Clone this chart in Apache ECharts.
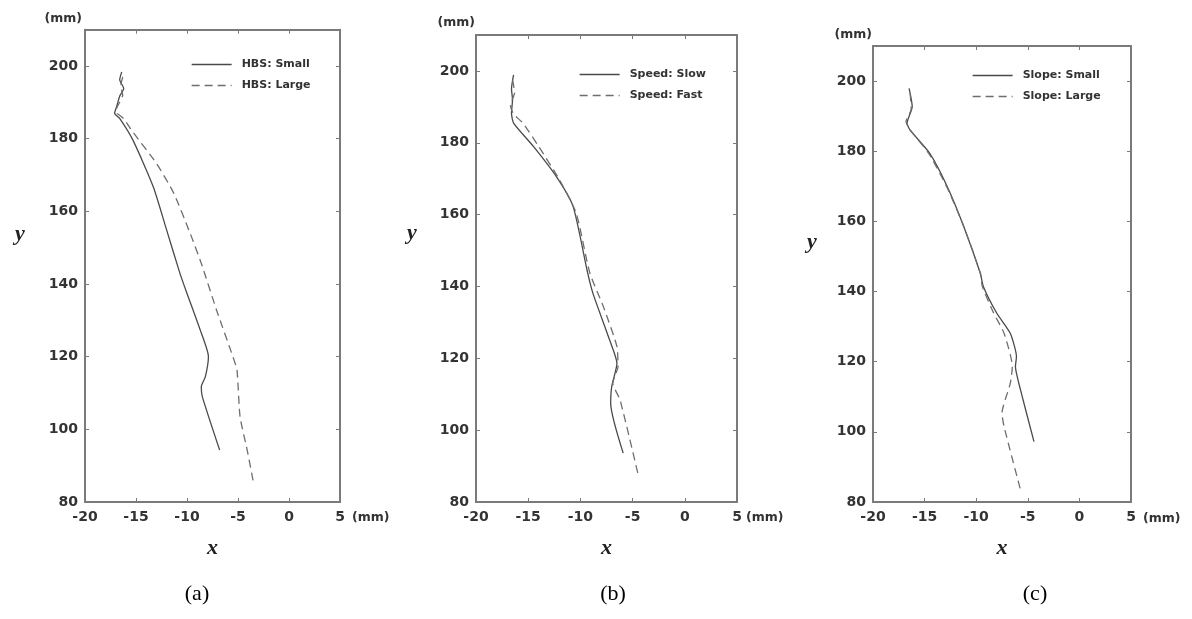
<!DOCTYPE html>
<html><head><meta charset="utf-8">
<script src="https://cdn.jsdelivr.net/npm/echarts@6/dist/echarts.min.js"></script>
<style>html,body{margin:0;padding:0;background:#fff}#c{width:1192px;height:619px}</style>
</head><body><div id="c"></div>
<script>
// ---- data (x mm, y mm) ----
const xTicks = [-20, -15, -10, -5, 0, 5];
const yTicks = [80, 100, 120, 140, 160, 180, 200];
const panelCaptions = ['(a)', '(b)', '(c)'];
const legendA = ['HBS: Small', 'HBS: Large'];
const legendB = ['Speed: Slow', 'Speed: Fast'];
const legendC = ['Slope: Small', 'Slope: Large'];

const hbsSmall = [[-16.4,198.4],[-16.6,196.2],[-16.2,193.8],[-16.6,191.7],[-16.9,188.8],[-17.1,187.0],[-16.6,185.6],[-15.3,179.6],[-13.3,166.7],[-12.0,154.9],[-10.7,143.0],[-10.0,137.4],[-8.7,127.3],[-7.9,120.0],[-8.2,114.5],[-8.6,111.7],[-8.5,109.0],[-6.8,94.3]];
const hbsLarge = [[-16.3,197.0],[-16.5,194.5],[-16.3,192.0],[-16.8,189.0],[-17.0,187.5],[-16.2,185.5],[-15.3,181.8],[-13.0,173.2],[-11.3,165.0],[-9.7,154.0],[-8.6,145.7],[-7.1,132.8],[-5.5,120.0],[-5.1,116.3],[-4.8,103.5],[-4.1,94.3],[-3.5,85.6]];
const speedSlow = [[-16.4,198.9],[-16.6,195.0],[-16.5,192.0],[-16.6,188.3],[-16.4,185.5],[-14.5,179.0],[-12.3,170.6],[-10.7,162.3],[-9.3,143.7],[-8.8,138.1],[-7.2,125.1],[-6.5,118.6],[-7.0,112.1],[-7.1,107.5],[-5.9,93.6]];
const speedFast = [[-16.5,197.5],[-16.3,194.0],[-16.7,190.5],[-16.4,188.0],[-15.5,185.5],[-14.0,179.0],[-12.0,169.7],[-10.4,160.4],[-9.1,143.8],[-7.8,134.4],[-6.5,123.3],[-6.4,117.7],[-6.9,113.1],[-6.2,108.4],[-4.5,88.0]];
const slopeSmall = [[-16.5,197.9],[-16.2,192.7],[-16.7,188.0],[-16.4,186.0],[-14.5,179.4],[-12.8,169.9],[-11.2,158.5],[-9.6,145.2],[-9.3,141.4],[-8.0,133.8],[-6.7,128.1],[-6.1,121.4],[-6.2,118.6],[-5.7,111.9],[-4.4,97.2]];
const slopeLarge = [[-16.4,196.5],[-16.3,192.0],[-16.8,188.5],[-16.5,186.5],[-14.6,179.4],[-12.8,169.5],[-11.2,158.5],[-9.6,145.2],[-9.4,141.4],[-8.3,133.8],[-7.3,128.1],[-6.5,118.6],[-6.7,113.8],[-7.5,105.3],[-7.3,101.5],[-5.7,83.4]];

// ---- layout ----
const grids = [
  {left: 85, top: 29.7, width: 255, height: 472.3},
  {left: 476, top: 35.1, width: 261, height: 466.9},
  {left: 873, top: 46, width: 258, height: 456}
];
const axisColor = '#7a7a7a';
const labelColor = '#333';
const sans = 'DejaVu Sans, Verdana, sans-serif';
const lblFont = {fontFamily: sans, fontWeight: 'bold', fontSize: 14, color: labelColor};

const xAxes = [], yAxes = [];
grids.forEach((g, i) => {
  xAxes.push({
    type: 'value', gridIndex: i, min: xTicks[0], max: xTicks[xTicks.length - 1], interval: 5, position: 'bottom',
    axisLine: {show: true, onZero: false, lineStyle: {color: axisColor, width: 2}},
    axisTick: {show: true, inside: true, length: 4, lineStyle: {color: axisColor}},
    axisLabel: Object.assign({margin: 8}, lblFont),
    splitLine: {show: false},
    name: 'x', nameLocation: 'middle', nameGap: 35,
    nameTextStyle: {fontFamily: 'Liberation Serif, Times New Roman, serif', fontStyle: 'italic', fontWeight: 'bold', fontSize: 22, color: '#222'}
  });
  xAxes.push({
    type: 'value', gridIndex: i, min: xTicks[0], max: xTicks[xTicks.length - 1], interval: 5, position: 'top',
    axisLine: {show: true, onZero: false, lineStyle: {color: axisColor, width: 2}},
    axisTick: {show: true, inside: true, length: 4, lineStyle: {color: axisColor}},
    axisLabel: {show: false}, splitLine: {show: false}
  });
  yAxes.push({
    type: 'value', gridIndex: i, min: 80, max: 210, interval: 20, position: 'left',
    axisLine: {show: true, onZero: false, lineStyle: {color: axisColor, width: 2}},
    axisTick: {show: true, inside: true, length: 4, lineStyle: {color: axisColor}},
    axisLabel: Object.assign({margin: 7, showMaxLabel: false, formatter: v => yTicks.includes(v) ? String(v) : ''}, lblFont),
    splitLine: {show: false}
  });
  yAxes.push({
    type: 'value', gridIndex: i, min: 80, max: 210, interval: 20, position: 'right',
    axisLine: {show: true, onZero: false, lineStyle: {color: axisColor, width: 2}},
    axisTick: {show: true, inside: true, length: 4, lineStyle: {color: axisColor}},
    axisLabel: {show: false}, splitLine: {show: false}
  });
});

function ser(name, data, gi, dashed) {
  return {
    name, type: 'line', data, xAxisIndex: gi * 2, yAxisIndex: gi * 2,
    symbol: 'none', smooth: 0.2, animation: false,
    lineStyle: {color: dashed ? '#6e6e6e' : '#4a4a4a', width: 1.3, type: dashed ? [8, 5] : 'solid'},
    itemStyle: {color: dashed ? '#6e6e6e' : '#4a4a4a'}
  };
}
const series = [
  ser(legendA[0], hbsSmall, 0, false), ser(legendA[1], hbsLarge, 0, true),
  ser(legendB[0], speedSlow, 1, false), ser(legendB[1], speedFast, 1, true),
  ser(legendC[0], slopeSmall, 2, false), ser(legendC[1], slopeLarge, 2, true)
];

function leg(names, left, top) {
  return {
    data: names, orient: 'vertical', left, top, itemWidth: 40, itemHeight: 12, itemGap: 10,
    itemStyle: {opacity: 0},
    lineStyle: {width: 1.3},
    textStyle: {fontFamily: sans, fontWeight: 'bold', fontSize: 11, color: labelColor, padding: [0, 0, 0, 5]},
    selectedMode: false
  };
}

const serif = 'Liberation Serif, Times New Roman, serif';
function txt(x, y, text, opts) {
  return {type: 'text', x, y, style: Object.assign({text, fill: labelColor, font: 'bold 12.5px ' + sans, textAlign: 'left', textVerticalAlign: 'middle'}, opts || {})};
}
const graphics = [
  txt(82, 19, '(mm)', {textAlign: 'right'}),
  txt(475, 23, '(mm)', {textAlign: 'right'}),
  txt(872, 35, '(mm)', {textAlign: 'right'}),
  txt(352, 518, '(mm)'), txt(746, 518, '(mm)'), txt(1143, 519, '(mm)'),
  txt(20, 234, 'y', {font: 'italic bold 22px ' + serif, fill: '#222', textAlign: 'center'}),
  txt(412, 233, 'y', {font: 'italic bold 22px ' + serif, fill: '#222', textAlign: 'center'}),
  txt(812, 242, 'y', {font: 'italic bold 22px ' + serif, fill: '#222', textAlign: 'center'}),
  txt(197, 594, panelCaptions[0], {font: '22px ' + serif, fill: '#000', textAlign: 'center'}),
  txt(613, 594, panelCaptions[1], {font: '22px ' + serif, fill: '#000', textAlign: 'center'}),
  txt(1035, 594, panelCaptions[2], {font: '22px ' + serif, fill: '#000', textAlign: 'center'})
];

const chart = echarts.init(document.getElementById('c'), null, {renderer: 'canvas'});
chart.setOption({
  backgroundColor: '#fff',
  animation: false,
  grid: grids,
  xAxis: xAxes,
  yAxis: yAxes,
  legend: [leg(legendA, 186, 54), leg(legendB, 574, 64), leg(legendC, 967, 65)],
  series,
  graphic: graphics
});
</script></body></html>
